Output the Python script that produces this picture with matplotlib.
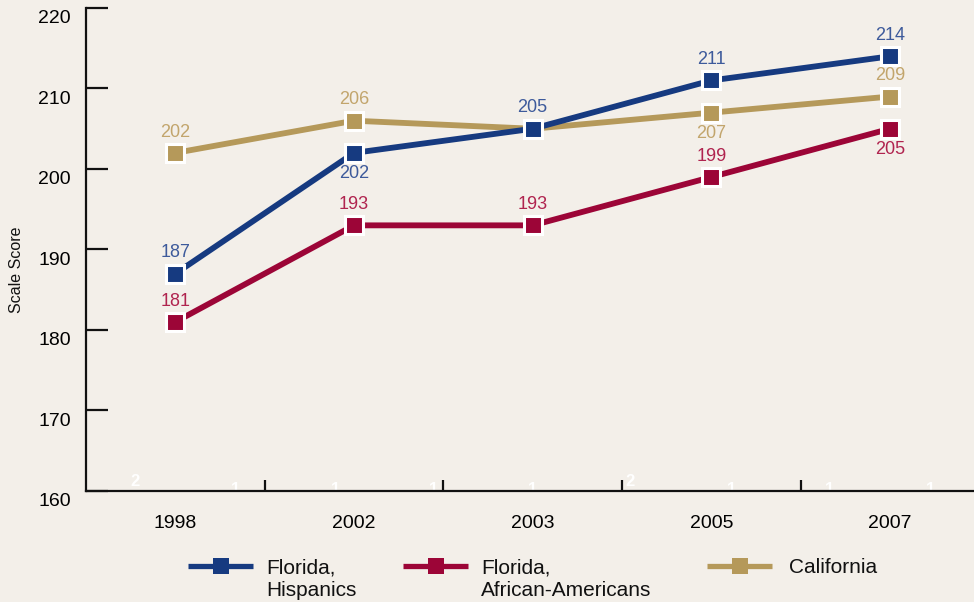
import matplotlib
matplotlib.use("Agg")
import matplotlib.pyplot as plt
import matplotlib.transforms as mtransforms
from matplotlib.lines import Line2D

plt.rcParams['font.family'] = ['Liberation Sans', 'DejaVu Sans']

# ---------------- data ----------------
years = ['1998', '2002', '2003', '2005', '2007']
fl_hispanic = [187, 202, 205, 211, 214]
fl_african = [181, 193, 193, 199, 205]
california = [202, 206, 205, 207, 209]

series_names = ['Florida,\nHispanics', 'Florida,\nAfrican-Americans', 'California']

# label placement per point: +1 above, -1 below, 0 none
hisp_label_pos = [1, -1, 1, 1, 1]
afr_label_pos = [1, 1, 1, 1, -1]
cal_label_pos = [1, 1, 0, -1, 1]

y_ticks = [160, 170, 180, 190, 200, 210, 220]
stray_labels = ['2', '1', '1', '1', '1', '2', '1', '1', '1']

# ---------------- style ----------------
BG = '#f3efe9'
C_BLUE = '#163a80'
C_RED = '#9c0537'
C_TAN = '#b5995a'
L_BLUE = '#3d5a9b'
L_RED = '#b0244f'
L_TAN = '#c2a56c'

W, H = 974, 602
fig = plt.figure(figsize=(W / 100, H / 100), dpi=100, facecolor=BG)
ax_left, ax_right, ax_bottom, ax_top = 86, 974, 491, 8
ax = fig.add_axes([ax_left / W, (H - ax_bottom) / H,
                   (ax_right - ax_left) / W, (ax_bottom - ax_top) / H])
ax.set_facecolor(BG)

x = list(range(len(years)))

def draw(vals, color, lcolor, lpos, z):
    ax.plot(x, vals, color=color, lw=4.2, marker='s', ms=13,
            mfc=color, mec='white', mew=2.2, zorder=z, solid_capstyle='butt')
    for xi, v, p in zip(x, vals, lpos):
        if p == 0:
            continue
        ax.annotate(str(v), (xi, v), xytext=(0, 15 * p), textcoords='offset points',
                    ha='center', va='center', fontsize=13, color=lcolor, zorder=z + 1)

draw(fl_african, C_RED, L_RED, afr_label_pos, 3)
draw(california, C_TAN, L_TAN, cal_label_pos, 4)
draw(fl_hispanic, C_BLUE, L_BLUE, hisp_label_pos, 5)

ax.set_xlim(-0.5, 4.47)
ax.set_ylim(160, 220)

for s in ['top', 'right']:
    ax.spines[s].set_visible(False)
for s in ['left', 'bottom']:
    ax.spines[s].set_linewidth(1.6)
    ax.spines[s].set_color('#111111')

ax.set_yticks(y_ticks)
ax.set_yticklabels([str(t) for t in y_ticks])
ax.tick_params(axis='y', direction='in', length=16, width=1.6, color='#111111',
               labelsize=14, pad=11)
offset = mtransforms.ScaledTranslation(0, -0.09, fig.dpi_scale_trans)
for lab in ax.get_yticklabels():
    lab.set_transform(lab.get_transform() + offset)

# boundaries as major ticks, category labels on minor ticks
ax.set_xticks([i + 0.5 for i in range(len(years) - 1)])
ax.set_xticklabels([])
ax.tick_params(axis='x', which='major', direction='in', length=8, width=1.6, color='#111111')
ax.set_xticks(x, minor=True)
ax.set_xticklabels(years, minor=True)
ax.tick_params(axis='x', which='minor', length=0, labelsize=14, pad=17)

fig.text(17 / W, 1 - 270 / H, 'Scale Score', rotation=90, ha='center', va='center',
         fontsize=11.5, color='#111111')

# stray white glyphs near the baseline
stray_px = [(135, 486), (236, 494), (336, 494), (434, 494), (533, 494),
            (630, 486), (732, 494), (830, 494), (931, 494)]
for lbl, (px, py) in zip(stray_labels, stray_px):
    ax.text((px - ax_left) / (ax_right - ax_left), (ax_bottom - py) / (ax_bottom - ax_top),
            lbl, transform=ax.transAxes, ha='center', va='baseline', fontsize=12,
            fontweight='bold', color='white', zorder=1, clip_on=True)

# legend (manual)
leg_items = [(188, 266, C_BLUE), (403, 481, C_RED), (707, 789, C_TAN)]
ly = 566
for (hx, tx, col), name in zip(leg_items, series_names):
    fig.add_artist(Line2D([hx / W, (hx + 65) / W], [1 - ly / H, 1 - ly / H],
                          color=col, lw=3.8, solid_capstyle='butt'))
    fig.add_artist(Line2D([(hx + 32.5) / W], [1 - ly / H], color=col, marker='s',
                          ms=11, mec=col, mew=0))
    fig.text(tx / W, 1 - 558 / H, name, ha='left', va='top', fontsize=15,
             color='#111111', linespacing=1.28)

fig.savefig('out.png', dpi=100, facecolor=BG)
